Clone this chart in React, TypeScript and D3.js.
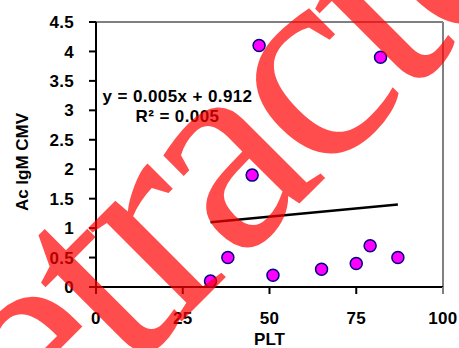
import * as d3 from 'd3'

// data
const pltValues = [33, 38, 45, 47, 51, 65, 75, 79, 82, 87]
const cmvValues = [0.1, 0.5, 1.9, 4.1, 0.2, 0.3, 0.4, 0.7, 3.9, 0.5]
const trendX = [33, 87]
const trendY = [1.1, 1.4]
const xTicks = [0, 25, 50, 75, 100]
const yTicks = [0, 0.5, 1, 1.5, 2, 2.5, 3, 3.5, 4, 4.5]
const equationText = 'y = 0.005x + 0.912'
const r2Text = 'R² = 0.005'
const stampText = 'Retracted'

const W = 459
const H = 348
const margin = { top: 22, right: 16, bottom: 61, left: 96 }

export default function App() {
  const x = d3.scaleLinear().domain([0, 100]).range([margin.left, W - margin.right])
  const y = d3.scaleLinear().domain([0, 4.5]).range([H - margin.bottom, margin.top])

  const points = pltValues.map((p, i) => ({ x: p, y: cmvValues[i] }))
  const trend = trendX.map((t, i) => ({ x: t, y: trendY[i] }))
  const line = d3.line<{ x: number; y: number }>().x(d => x(d.x)).y(d => y(d.y))

  const font = '"Liberation Sans", Arial, sans-serif'
  const x0 = x(0), x1 = x(100), y0 = y(0), y1 = y(4.5)

  return (
    <svg width={W} height={H} style={{ position: 'absolute', left: 0, top: 0, background: '#fff' }}
      fontFamily={font} fontWeight="bold">
      {/* frame */}
      <line x1={x0} x2={x1} y1={y1} y2={y1} stroke="#808080" strokeWidth={2} />
      <line x1={x1} x2={x1} y1={y1} y2={y0} stroke="#808080" strokeWidth={2} />

      {/* y axis */}
      <line x1={x0} x2={x0} y1={y1} y2={y0} stroke="#000" strokeWidth={2} />
      {yTicks.map(t => (
        <g key={'y' + t}>
          <line x1={x0 - 7} x2={x0} y1={y(t)} y2={y(t)} stroke="#000" strokeWidth={2} />
          <text x={x0 - 22} y={y(t)} dy="0.36em" textAnchor="end" fontSize={17} letterSpacing={0.3}>{t}</text>
        </g>
      ))}

      {/* x axis */}
      <line x1={x0 - 7} x2={x1} y1={y0} y2={y0} stroke="#000" strokeWidth={2} />
      {xTicks.map(t => (
        <g key={'x' + t}>
          <line x1={x(t)} x2={x(t)} y1={y0} y2={y0 + 7} stroke={t === 100 ? '#808080' : '#000'} strokeWidth={2} />
          <text x={x(t)} y={y0 + 37} textAnchor="middle" fontSize={17} letterSpacing={0.3}>{t}</text>
        </g>
      ))}

      <text x={x(50)} y={345} textAnchor="middle" fontSize={17}>PLT</text>
      <text transform={`translate(28,${162}) rotate(-90)`} textAnchor="middle" fontSize={17}>Ac IgM CMV</text>

      {/* trend line */}
      <path d={line(trend) ?? ''} fill="none" stroke="#000" strokeWidth={2.5} />

      {/* points */}
      {points.map((d, i) => (
        <circle key={i} cx={x(d.x)} cy={y(d.y)} r={6} fill="#ff00ff" stroke="#000080" strokeWidth={1.5} />
      ))}

      {/* equation */}
      <text x={177.5} y={102} textAnchor="middle" fontSize={17} letterSpacing={0.4}>{equationText}</text>
      <text x={177.5} y={122} textAnchor="middle" fontSize={17} letterSpacing={0.4}>{r2Text}</text>

      {/* stamp across the chart */}
      <text transform="translate(-82,585) rotate(-45)" textAnchor="start"
        fontFamily='"Liberation Serif", "Times New Roman", serif' fontWeight="normal"
        fontSize={288} letterSpacing={-11} fill="#ff0000" fillOpacity={0.7}>{stampText}</text>
    </svg>
  )
}
